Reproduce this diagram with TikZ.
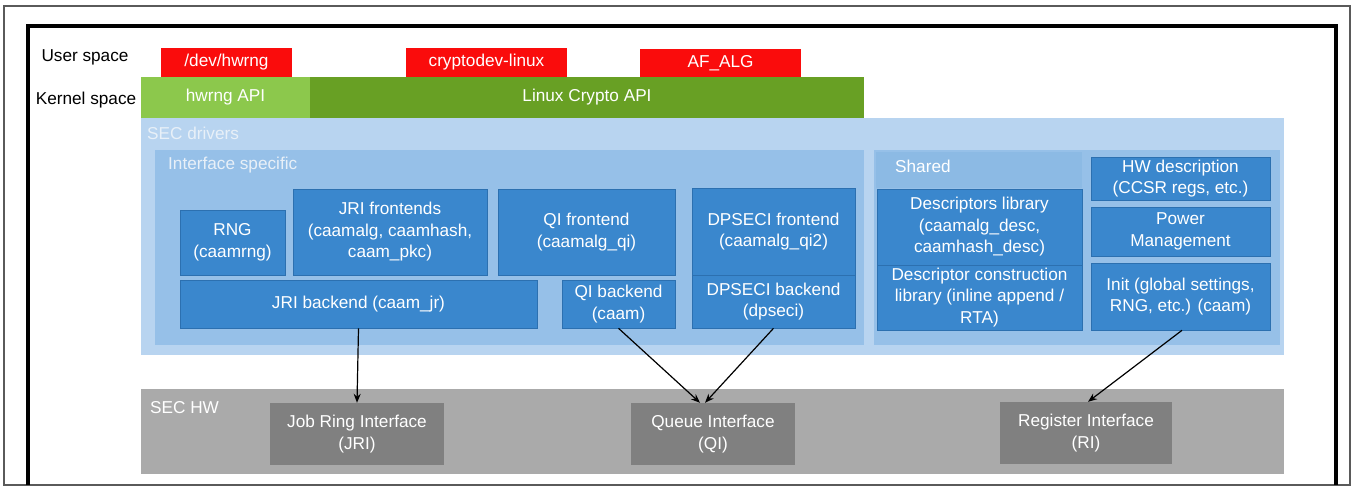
\documentclass[tikz,border=0pt]{standalone}
\usepackage{fontspec}
\setmainfont{Liberation Sans}
\usepackage{xcolor}
\usepackage{tikz}
\usetikzlibrary{positioning, arrows.meta}
\definecolor{usred}{RGB}{250,12,12}
\definecolor{apilight}{RGB}{140,200,76}
\definecolor{apidark}{RGB}{104,160,36}
\definecolor{drvpale}{RGB}{184,212,240}
\definecolor{panelblue}{RGB}{150,192,232}
\definecolor{sharedhead}{RGB}{140,186,228}
\definecolor{blockblue}{RGB}{58,135,205}
\definecolor{blockedge}{RGB}{44,112,176}
\definecolor{hwgray}{RGB}{170,170,170}
\definecolor{ifgray}{RGB}{128,128,128}
\definecolor{framegray}{RGB}{90,90,90}
\definecolor{paletext}{RGB}{232,240,248}

\begin{document}
\begin{tikzpicture}[x=1pt, y=-1pt,
  txt/.style={font=\fontsize{17.2}{21.5}\selectfont},
  panel/.style={inner sep=0pt, minimum width=#1},
  blk/.style={txt, draw=blockedge, line width=0.6pt, fill=blockblue, text=white, align=center, inner sep=0pt},
  usr/.style={txt, fill=usred, text=white, inner sep=0pt, minimum height=29pt},
  api/.style={txt, text=white, inner sep=0pt, minimum height=41pt},
  hwif/.style={txt, fill=ifgray, text=white, align=center, inner sep=0pt, minimum height=62pt},
  lab/.style={txt, anchor=west, inner sep=0pt},
  arr/.style={-{Stealth[length=9pt, width=7pt]}, line width=1.2pt}]
\useasboundingbox (0,0) rectangle (1351,486);
% frames
\draw[framegray, line width=1.6pt] (4,6) rectangle (1350,485);
\draw[black, line width=3.6pt] (28,485) |- (1336,26) -- (1336,485);

% side labels
\node[txt] (us) at (85,57) {User space};
\node[txt] (ks) at (86,100) {Kernel space};

% user space
\node[usr, minimum width=131pt] (dev) at (226.5,62.5) {/dev/hwrng};
\node[usr, minimum width=161pt] (cdev) at (486.5,62.5) {cryptodev-linux};
\node[usr, minimum width=161pt] (afalg) at (720.5,63.5) {AF\_ALG};

% kernel APIs
\node[api, fill=apilight, minimum width=169pt] (hwapi) at (225.5,97.5) {hwrng API};
\node[api, fill=apidark, minimum width=554pt] (lcapi) at (587,97.5) {Linux Crypto API};

% SEC drivers
\node[panel=1143pt, minimum height=237pt, fill=drvpale] (secdrv) at (712.5,236.5) {};
\node[lab, text=paletext] (secdrvlab) at (147,133) {SEC drivers};
\node[panel=709pt, minimum height=195pt, fill=panelblue] (ifspec) at (509.5,247.5) {};
\node[lab, text=paletext] (ifspeclab) at (168,165) {Interface specific};
\node[panel=406pt, minimum height=195pt, fill=panelblue] (shared) at (1077,247.5) {};
\node[panel=206pt, minimum height=36pt, fill=sharedhead] (sharedtop) at (979,170) {};
\node[lab, text=white] (sharedlab) at (895,166) {Shared};

% interface specific blocks
\node[blk, minimum width=105pt, minimum height=65pt] (rng) at (232.5,242.5) {RNG\\(caamrng)};
\node[blk, minimum width=194pt, minimum height=86pt] (jrfe) at (390,232) {JRI frontends\\(caamalg, caamhash,\\caam\_pkc)};
\node[blk, minimum width=177pt, minimum height=86pt] (qife) at (586.5,232) {QI frontend\\(caamalg\_qi)};
\node[blk, minimum width=163pt, minimum height=87pt] (dpfe) at (773.5,231.5) {DPSECI frontend\\(caamalg\_qi2)};
\node[blk, minimum width=357pt, minimum height=48pt] (jrbe) at (358.5,304) {JRI backend (caam\_jr)};
\node[blk, minimum width=113pt, minimum height=48pt] (qibe) at (618.5,304) {QI backend\\(caam)};
\node[blk, minimum width=163pt, minimum height=53pt] (dpbe) at (773.5,301.5) {DPSECI backend\\(dpseci)};

% shared blocks
\node[blk, minimum width=205pt, minimum height=76pt] (desclib) at (979.5,227) {Descriptors library\\(caamalg\_desc,\\caamhash\_desc)};
\node[blk, minimum width=205pt, minimum height=65pt] (dcl) at (979.5,297.5) {Descriptor construction\\library (inline append /\\RTA)};
\node[blk, minimum width=179pt, minimum height=43pt] (hwdesc) at (1180.5,178.5) {HW description\\(CCSR regs, etc.)};
\node[blk, minimum width=179pt, minimum height=49pt] (pm) at (1180.5,231.5) {Power\\Management};
\node[blk, minimum width=179pt, minimum height=67pt] (init) at (1180.5,296.5) {Init (global settings,\\RNG, etc.) (caam)};

% SEC HW
\node[panel=1143pt, minimum height=85pt, fill=hwgray] (sechw) at (712.5,431.5) {};
\node[lab, text=white] (sechwlab) at (150,408) {SEC HW};
\node[hwif, minimum width=174pt] (jri) at (357,434) {Job Ring Interface\\(JRI)};
\node[hwif, minimum width=164pt] (qi) at (713,434) {Queue Interface\\(QI)};
\node[hwif, minimum width=172pt] (ri) at (1086,433) {Register Interface\\(RI)};

% connectors
\draw[arr] (jrbe.south) -- (jri.north);
\draw[arr] (qibe.south) -- ([xshift=-13pt]qi.north);
\draw[arr] (dpbe.south) -- ([xshift=-8pt]qi.north);
\draw[arr] ([xshift=1.5pt]init.south) -- ([xshift=2pt]ri.north);
\end{tikzpicture}
\end{document}
